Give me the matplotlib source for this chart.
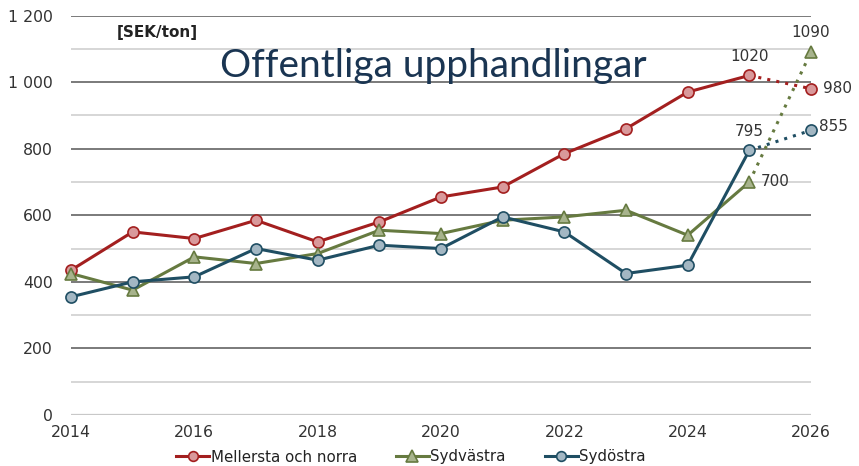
import numpy as np
import matplotlib.pyplot as plt
from matplotlib.lines import Line2D

years = list(range(2014, 2027))
mellersta = [435, 550, 530, 585, 520, 580, 655, 685, 785, 860, 970, 1020, 980]
sydvastra = [425, 375, 475, 455, 485, 555, 545, 585, 595, 615, 540, 700, 1090]
sydostra = [355, 400, 415, 500, 465, 510, 500, 595, 550, 425, 450, 795, 855]

series = [
    ("Mellersta och norra", mellersta, "#a31f1f", "#d9999b", "o"),
    ("Sydvästra", sydvastra, "#667a40", "#a7b38c", "^"),
    ("Sydöstra", sydostra, "#1f4e63", "#a3b7c3", "o"),
]

plt.rcParams['font.family'] = ['DejaVu Sans']
fig = plt.figure(figsize=(8.59, 4.66), dpi=100)
ax = fig.add_axes([71 / 859, 1 - 415 / 466, 740 / 859, 399.5 / 466])
ax.set_xlim(2014, 2026)
ax.set_ylim(0, 1200)

# grid
for v in range(100, 1200, 200):
    ax.axhline(v, color="#d0d0d0", lw=1.2, zorder=0)
for v in range(200, 1201, 200):
    ax.axhline(v, color="#707070", lw=1.3, zorder=0)
ax.axhline(0, color="#c8c8c8", lw=1.6, zorder=0)

for s in ax.spines.values():
    s.set_visible(False)
ax.tick_params(length=0, labelsize=11.3, colors="#333333")
ax.set_yticks(range(0, 1201, 200))
ax.set_yticklabels([f"{v:,}".replace(",", " ") for v in range(0, 1201, 200)])
ax.set_xticks(range(2014, 2027, 2))
ax.tick_params(axis='y', pad=13)
ax.tick_params(axis='x', pad=7)

handles = []
for name, vals, lc, fc, m in series:
    ms = 9 if m == "^" else 8
    ax.plot(years[:12], vals[:12], color=lc, lw=2.2, zorder=3)
    ax.plot(years[11:], vals[11:], color=lc, lw=2.2, ls=(0, (1, 2)), zorder=3)
    ax.plot(years, vals, ls="none", marker=m, ms=ms, mfc=fc, mec=lc,
            mew=1.2, zorder=4, clip_on=False)
    handles.append(Line2D([], [], color=lc, lw=2.2, marker=m, ms=ms - 1,
                          mfc=fc, mec=lc, mew=1.2))

lab = dict(fontsize=11, color="#333333", zorder=5)
ax.annotate(str(mellersta[11]), (2025, mellersta[11]), xytext=(0, 8),
            textcoords="offset points", ha="center", va="bottom", **lab)
ax.annotate(str(mellersta[12]), (2026, mellersta[12]), xytext=(9, 0),
            textcoords="offset points", ha="left", va="center", **lab)
ax.annotate(str(sydvastra[12]), (2026, sydvastra[12]), xytext=(0, 9),
            textcoords="offset points", ha="center", va="bottom", **lab)
ax.annotate(str(sydvastra[11]), (2025, sydvastra[11]), xytext=(8, 0),
            textcoords="offset points", ha="left", va="center", **lab)
ax.annotate(str(sydostra[11]), (2025, sydostra[11]), xytext=(0, 8),
            textcoords="offset points", ha="center", va="bottom", **lab)
ax.annotate(str(sydostra[12]), (2026, sydostra[12]), xytext=(6, 3),
            textcoords="offset points", ha="left", va="center", **lab)

fig.text(117 / 859, 1 - 32 / 466, "[SEK/ton]", fontsize=11, fontweight="bold",
         color="#222222", va="center", ha="left")
fig.text(433 / 859, 1 - 77 / 466, "Offentliga upphandlingar", fontsize=28,
         color="#1a3552", va="baseline", ha="center", family=["Lato", "DejaVu Sans"])

fig.legend(handles, [s[0] for s in series], loc="center",
           bbox_to_anchor=(411 / 859, 1 - 457 / 466), ncol=3, frameon=False,
           fontsize=10.8, handlelength=2.2, handletextpad=0.1, columnspacing=2.6,
           labelcolor="#222222")

fig.savefig("out.png", dpi=100)
